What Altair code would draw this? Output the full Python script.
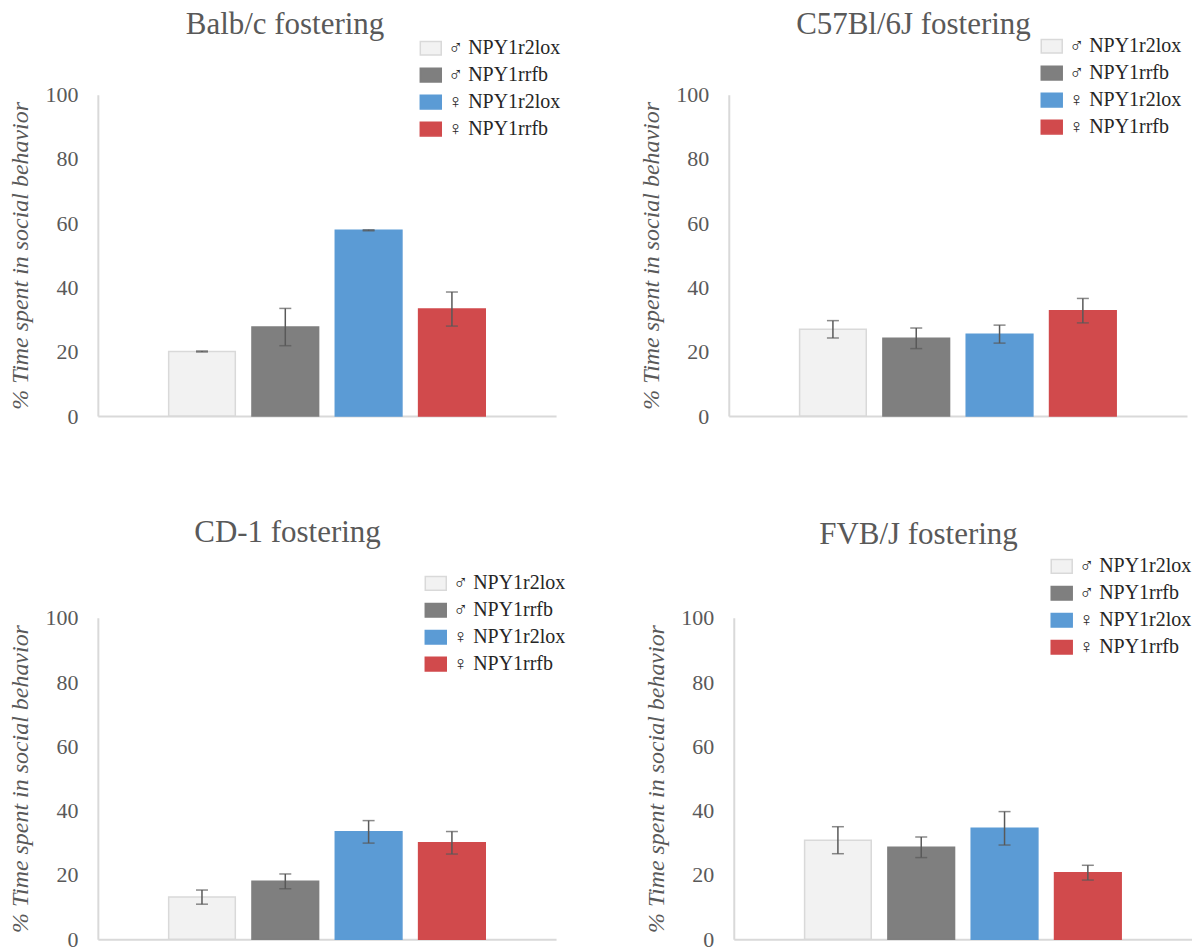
import altair as alt
import pandas as pd

# Genotype / sex groups, in plotting order
groups = ["♂ NPY1r2lox", "♂ NPY1rrfb", "♀ NPY1r2lox", "♀ NPY1rrfb"]
fills = ["#f2f2f2", "#7f7f7f", "#5b9bd5", "#d14a4c"]
outlines = ["#d9d9d9", "#7f7f7f", "#5b9bd5", "#d14a4c"]

# % time spent in social behaviour (mean) and its error, per fostering strain
balbc_mean = [20.1, 27.7, 57.8, 33.3]
balbc_err = [0.15, 5.8, 0.15, 5.3]
c57_mean = [27.0, 24.2, 25.5, 32.8]
c57_err = [2.7, 3.2, 2.8, 3.8]
cd1_mean = [13.1, 18.0, 33.4, 30.0]
cd1_err = [2.2, 2.3, 3.5, 3.5]
fvb_mean = [30.8, 28.6, 34.5, 20.7]
fvb_err = [4.2, 3.2, 5.2, 2.3]

SERIF = "Liberation Serif"
GREY_TEXT = "#595959"
ERR_COLOR = "#595959"
PLOT_W, PLOT_H = 459, 322


def panel(title, mean, err, legend_x, legend_y, title_offset):
    df = pd.DataFrame({
        "group": groups,
        "mean": mean,
        "lo": [m - e for m, e in zip(mean, err)],
        "hi": [m + e for m, e in zip(mean, err)],
    })
    base = alt.Chart(df)

    x = alt.X(
        "group:N",
        sort=groups,
        scale=alt.Scale(paddingInner=0.2, paddingOuter=0.85),
        axis=alt.Axis(labels=False, ticks=False, title=None,
                      domainColor="#d9d9d9", domainWidth=2),
    )
    yscale = alt.Scale(domain=[0, 100], nice=False)
    yaxis = alt.Axis(
        values=[0, 20, 40, 60, 80, 100],
        title="% Time spent in social behavior",
        titleFont=SERIF, titleFontSize=24, titleFontStyle="italic",
        titleFontWeight="normal", titleColor=GREY_TEXT, titlePadding=12,
        labelFont=SERIF, labelFontSize=22, labelColor=GREY_TEXT, labelPadding=20,
        ticks=False, grid=False, domainColor="#d9d9d9", domainWidth=2,
    )
    legend = alt.Legend(
        orient="none", legendX=legend_x, legendY=legend_y, title=None,
        labelFont=SERIF, labelFontSize=20, labelColor="#262626",
        symbolType="M-1,-0.65H1V0.65H-1Z", symbolSize=441,
        symbolStrokeWidth=1.5, rowPadding=5, labelOffset=6, padding=0,
    )

    bars = base.mark_bar(strokeWidth=1.5).encode(
        x=x,
        y=alt.Y("mean:Q", scale=yscale, axis=yaxis),
        fill=alt.Fill("group:N", sort=groups,
                      scale=alt.Scale(domain=groups, range=fills), legend=legend),
        stroke=alt.Stroke("group:N", sort=groups,
                          scale=alt.Scale(domain=groups, range=outlines), legend=legend),
    )
    whisker = base.mark_rule(color=ERR_COLOR, strokeWidth=1.5).encode(
        x=alt.X("group:N", sort=groups),
        y=alt.Y("lo:Q", scale=yscale, axis=yaxis),
        y2="hi:Q",
    )
    cap_hi = base.mark_tick(color=ERR_COLOR, thickness=1.5, size=12).encode(
        x=alt.X("group:N", sort=groups),
        y=alt.Y("hi:Q", scale=yscale, axis=yaxis),
    )
    cap_lo = base.mark_tick(color=ERR_COLOR, thickness=1.5, size=12).encode(
        x=alt.X("group:N", sort=groups),
        y=alt.Y("lo:Q", scale=yscale, axis=yaxis),
    )
    return alt.layer(bars, whisker, cap_hi, cap_lo).properties(
        width=PLOT_W,
        height=PLOT_H,
        title=alt.TitleParams(
            title, anchor="middle", frame="bounds", font=SERIF, fontSize=31,
            fontWeight="normal", color=GREY_TEXT, offset=title_offset,
        ),
    )


# the title sits above each panel's legend, offset chosen per panel
p1 = panel("Balb/c fostering", balbc_mean, balbc_err, 322, -58, -4.5)
p2 = panel("C57Bl/6J fostering", c57_mean, c57_err, 312, -60, -6)
p3 = panel("CD-1 fostering", cd1_mean, cd1_err, 327, -46, 22.5)
p4 = panel("FVB/J fostering", fvb_mean, fvb_err, 317, -63, 4)

# every panel keeps its own legend
top_row = alt.hconcat(p1, p2, spacing=79).resolve_scale(
    fill="independent", stroke="independent")
bottom_row = alt.hconcat(p3, p4, spacing=79).resolve_scale(
    fill="independent", stroke="independent")

chart = (
    alt.vconcat(top_row, bottom_row, spacing=90)
    .resolve_scale(fill="independent", stroke="independent")
    .properties(padding={"left": 9, "top": 8, "right": 0, "bottom": 0},
                background="white")
    .configure_axis(labelFont=SERIF, titleFont=SERIF, grid=False)
    .configure_view(stroke=None)
)

chart.save("out.html", embed_options={"renderer": "svg", "actions": False})
